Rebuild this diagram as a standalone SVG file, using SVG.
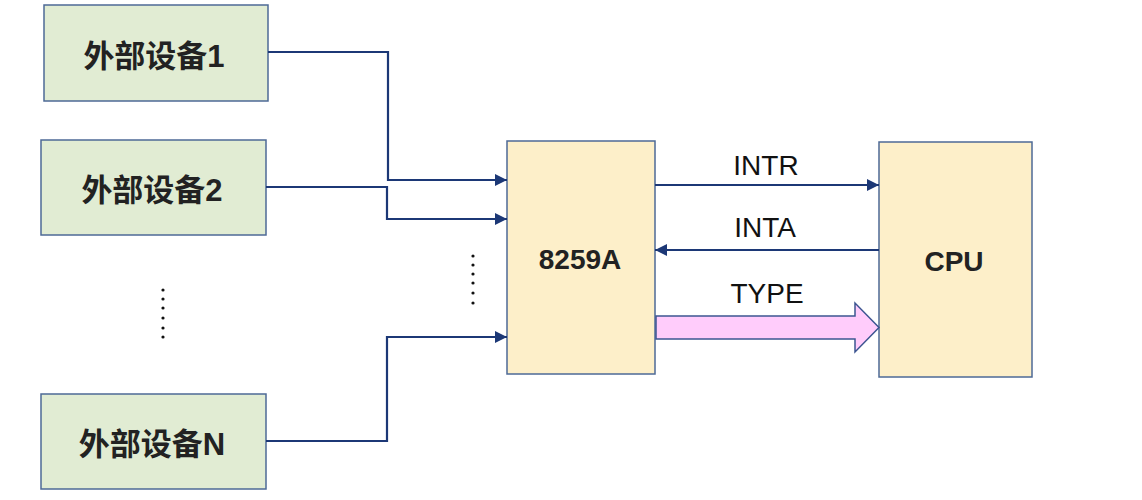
<svg xmlns="http://www.w3.org/2000/svg" width="1142" height="500" viewBox="0 0 1142 500">
<style>
.dev{fill:#e1ecd3;stroke:#4d6a96;stroke-width:1.5}
.chip{fill:#fdefc9;stroke:#4d6a96;stroke-width:1.5}
.devt{font-family:"Liberation Sans","Noto Sans CJK SC",sans-serif;font-weight:bold;font-size:31px;fill:#222;text-anchor:middle}
.chipt{font-family:"Liberation Sans",sans-serif;font-weight:bold;font-size:28px;fill:#222;text-anchor:middle}
.sig{font-family:"Liberation Sans",sans-serif;font-size:28px;fill:#111;text-anchor:middle}
.wire{fill:none;stroke:#1c3876;stroke-width:2.2}
.dot{fill:#111}
</style>
<defs>
<marker id="ah" viewBox="0 0 10 10" refX="10" refY="5" markerWidth="5.5" markerHeight="5.5" orient="auto" markerUnits="strokeWidth">
<path d="M0,0 L10,5 L0,10 z" fill="#1c3876"/>
</marker>
</defs>
<rect width="1142" height="500" fill="#ffffff"/>
<g id="dev1"><rect class="dev" x="44" y="5" width="224" height="96"/><text class="devt" x="154" y="67">外部设备1</text></g>
<g id="dev2"><rect class="dev" x="41" y="140" width="225" height="95"/><text class="devt" x="152" y="201">外部设备2</text></g>
<g id="devN"><rect class="dev" x="41" y="394" width="225" height="95"/><text class="devt" x="152" y="455">外部设备N</text></g>
<g id="pic8259a"><rect class="chip" x="507" y="141" width="148" height="233"/><text class="chipt" x="580" y="269">8259A</text></g>
<g id="cpu"><rect class="chip" x="879" y="142" width="153" height="235"/><text class="chipt" x="954" y="271">CPU</text></g>
<g id="dots">
<circle class="dot" cx="163" cy="290" r="1.6"/><circle class="dot" cx="163" cy="299" r="1.6"/><circle class="dot" cx="163" cy="308" r="1.6"/><circle class="dot" cx="163" cy="318" r="1.6"/><circle class="dot" cx="163" cy="328" r="1.6"/><circle class="dot" cx="163" cy="337" r="1.6"/>
<circle class="dot" cx="473" cy="256" r="1.6"/><circle class="dot" cx="473" cy="265" r="1.6"/><circle class="dot" cx="473" cy="274" r="1.6"/><circle class="dot" cx="473" cy="283" r="1.6"/><circle class="dot" cx="473" cy="293" r="1.6"/><circle class="dot" cx="473" cy="303" r="1.6"/>
</g>
<g id="connectors">
<path class="wire" d="M268,52 H388 V180 H507" marker-end="url(#ah)"/>
<path class="wire" d="M266,187 H387 V219 H507" marker-end="url(#ah)"/>
<path class="wire" d="M266,441 H387 V337 H507" marker-end="url(#ah)"/>
<path class="wire" d="M655,185 H879" marker-end="url(#ah)"/>
<path class="wire" d="M879,250 H655" marker-end="url(#ah)"/>
<path d="M656,316 H855 V303 L879,327.5 L855,352 V339 H656 Z" fill="#ffccfb" stroke="#3d5591" stroke-width="1.5"/>
<text class="sig" x="766" y="175">INTR</text>
<text class="sig" x="765" y="237">INTA</text>
<text class="sig" x="767" y="303">TYPE</text>
</g>
</svg>
